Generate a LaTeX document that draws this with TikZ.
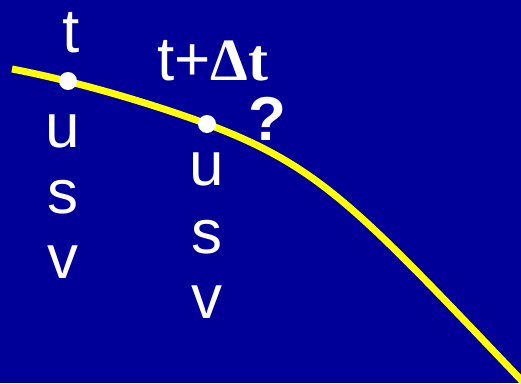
\documentclass[tikz,border=0pt]{standalone}
\usepackage{fontspec}
\setmainfont{Liberation Sans}
\newfontfamily\serifb{Liberation Serif}
\definecolor{bgblue}{RGB}{0,0,153}
\definecolor{curveyellow}{RGB}{255,255,0}
\begin{document}
\begin{tikzpicture}[x=1pt,y=-1pt,
  lbl/.style={text=white,inner sep=0pt,anchor=base,font=\fontsize{62}{62}\selectfont},
  dot/.style={circle,fill=white,minimum size=18pt,inner sep=0pt}]
\fill[bgblue] (0,0) rectangle (521,383);
\useasboundingbox (0,0) rectangle (521,383);
\coordinate (c0) at (12,69);
\coordinate (c1) at (207,124);
\coordinate (c2) at (525,384);
\draw[curveyellow,line width=7pt] (c0) .. controls (75,81) and (150,103) .. (c1)
  .. controls (321,167) and (358,209) .. (c2);
\node[dot] (p1) at (68,81) {};
\node[dot] (p2) at (c1) {};
\node[lbl] (t1) at (71,52) {t};
\node[lbl] (u1) at (63,147) {u};
\node[lbl] (s1) at (63,213) {s};
\node[lbl] (v1) at (63,278) {v};
\node[lbl,anchor=base west] (t2) at (157,80) {t+{\serifb\bfseries\fontsize{60}{60}\selectfont Δt}};
\node[lbl,font=\fontsize{62}{62}\selectfont\bfseries] (q) at (267,140) {?};
\node[lbl] (u2) at (207,185) {u};
\node[lbl] (s2) at (207,253) {s};
\node[lbl] (v2) at (207,318) {v};
\end{tikzpicture}
\end{document}
